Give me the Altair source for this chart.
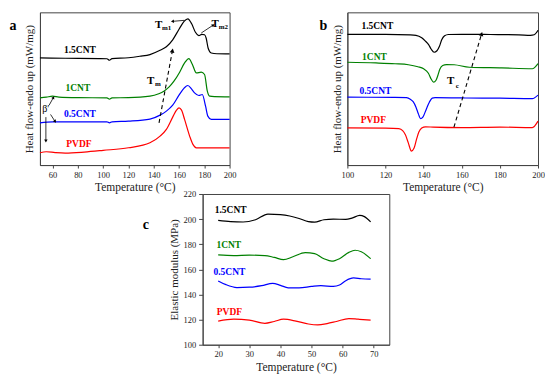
import math
import altair as alt
import pandas as pd

FONT = "Liberation Serif"
SERIES = ["1.5CNT", "1CNT", "0.5CNT", "PVDF"]
COLORS = ["#000000", "#008000", "#0000ff", "#ff0000"]

# ---------------- panel a : DSC heating (arbitrary heat-flow units) ----------------
a_T_15 = [50, 70, 97, 103, 105, 107, 120, 129, 137, 145, 150, 155, 160, 164, 167, 170, 173, 175.7, 178, 180.2, 181.5, 183, 185.5, 190, 200]
a_V_15 = [107.3, 107, 106.7, 106.5, 105, 106.7, 107.5, 109, 110.7, 115, 118.5, 125.5, 136, 144, 146.5, 141.5, 133, 129.7, 131, 130.5, 127, 117.3, 112.3, 111.5, 111.3]
a_T_1 = [50, 55, 60, 65, 80, 103, 105, 107, 120, 137, 144, 148, 152, 156, 160.5, 164.4, 167.8, 170.5, 173.7, 177.6, 180.2, 182.4, 184.2, 188, 200]
a_V_1 = [67.3, 68, 69, 68, 67.5, 67.3, 66, 67.3, 67.5, 69, 71.5, 74, 78, 84, 93, 102.3, 106.7, 101, 92.3, 93, 90.7, 74, 69, 68.5, 68.3]
a_T_05 = [50, 60, 80, 103, 105, 107, 120, 137, 145, 150, 155, 160, 164, 167, 170, 172.3, 175.7, 178.4, 181, 182.8, 185.5, 190, 200]
a_V_05 = [42.3, 43.3, 43.3, 43.3, 42.3, 43.3, 44, 46, 50, 54, 60, 70, 77, 79.7, 76, 72.3, 69.7, 70.7, 59, 49, 45.7, 45.7, 45.7]
a_T_p = [50, 55, 62, 70, 85, 100, 120, 137, 145, 150, 155, 158, 160, 162, 164.4, 168.4, 171, 173.7, 177, 200]
a_V_p = [12.3, 13.3, 12.5, 12, 13, 14.7, 17.3, 22.3, 29, 35.7, 48, 55, 57.3, 55, 45.7, 29, 20.7, 17.3, 17.3, 17.3]
a_lab_x = [81.6, 80, 81.6, 80.8]
a_lab_y = [115, 77, 51, 21]

# ---------------- panel b : DSC cooling ----------------
b_T_15 = [100, 120, 133, 136, 139, 141, 142.6, 144, 145.5, 147, 148.3, 149.5, 151, 153, 160, 175, 190, 196, 198, 200]
b_V_15 = [131, 131, 130.5, 130, 127.5, 124, 120.7, 116, 113, 114.5, 119, 125.5, 129.5, 130.8, 131, 130.8, 130.5, 130, 130.5, 135]
b_T_1 = [100, 115, 125, 132, 137, 140, 142.5, 144, 145.2, 146.5, 147.5, 148.5, 150, 152, 156, 164, 181, 197, 200]
b_V_1 = [103, 102.3, 101.5, 100.5, 98.5, 96.5, 92, 86, 83, 85, 90, 96, 99.7, 100.7, 100.5, 98, 97.3, 96.5, 101.7]
b_T_05 = [100, 125, 131, 133, 134.5, 136, 137.3, 138.4, 139.6, 141.4, 143, 144.5, 146, 160, 180, 197, 200]
b_V_05 = [68, 67.8, 67.5, 66, 63.5, 58, 51, 46.5, 48, 56, 63, 67, 67.5, 67.2, 67, 66.5, 70]
b_T_p = [100, 120, 127, 129, 130.5, 132, 133.6, 135, 136.3, 137.5, 139, 141, 145, 160, 180, 197, 200]
b_V_p = [37.3, 37, 36.5, 34.5, 30, 22, 14, 17, 26, 33, 37, 38.3, 38, 37.5, 38, 37.5, 44]
b_lab_x = [115.7, 114.2, 114.7, 113.6]
b_lab_y = [139, 108, 74, 45]

# ---------------- panel c : elastic modulus ----------------
c_T_15 = [20, 24, 28, 32, 36, 40, 43, 46, 49, 51, 54, 57, 61, 63, 65.5, 67, 69]
c_V_15 = [199, 198, 197.7, 199.5, 204, 203.6, 202.5, 200.5, 198, 197.6, 199.5, 200, 199.8, 200.8, 203, 202, 197.8]
c_T_1 = [20, 25, 30, 35, 38, 41, 44, 48, 51, 54, 56.5, 59, 62, 64, 66, 69]
c_V_1 = [171.5, 171, 171.3, 171, 169.5, 167.7, 170, 173.3, 172.5, 168.5, 166.5, 168.5, 173.5, 175.2, 174, 168.5]
c_T_05 = [20, 22.5, 26, 30, 34, 37.5, 40, 42.5, 46, 50, 53, 57, 59, 61, 63.5, 66, 69]
c_V_05 = [150.8, 147.8, 145.5, 145.8, 147, 148.8, 147.3, 145.3, 145.3, 146.4, 147, 146.4, 147.5, 151, 153.2, 152.5, 152.2]
c_T_p = [20, 25, 30, 35, 38, 41, 45, 49, 52, 55, 58, 62, 65, 69]
c_V_p = [118.8, 120.3, 119.6, 117, 118.5, 120.3, 118.8, 116.5, 115.8, 116.8, 118.5, 120.8, 120.3, 119.6]
c_lab_x = [24, 23.4, 23.6, 23.6]
c_lab_y = [207.4, 179.2, 158, 125.7]

# ---------------- annotations ----------------
a_T_x = [143.8, 188.5, 137.5]
a_T_y = [140.7, 141.3, 84.7]
a_sub_txt = ["m1", "m2", "m"]
a_sub_x = [150.2, 195.0, 143.4]
a_sub_y = [137.3, 138.3, 80.7]
a_arr_x1 = [164.4, 177.6, 57.3, 58.4, 54.7]
a_arr_y1 = [145, 132.3, 60, 50.7, 48]
a_arr_x2 = [155.2, 186.8, 60.5, 61.8, 54.7]
a_arr_y2 = [144, 140, 67.3, 44, 24.7]
a_dash = [144.2, 42.3, 154.7, 114]
a_beta = [54.7, 56]

b_T_x = [154.2]
b_T_y = [84]
b_sub_x = [157.6]
b_sub_y = [79.5]
b_dash = [155.9, 38, 170.3, 130.7]

A_DOM = [50, 200]
B_DOM = [100, 200]
C_DOM = [15, 75]
A_YDOM = [0, 153]
B_YDOM = [0, 153]
C_YDOM = [100, 220]
AW, AH = 190, 153
BW, BH = 191, 153
CW, CH = 187, 151


def series_df(Ts, Vs):
    rows = []
    for name, t, v in zip(SERIES, Ts, Vs):
        for i, (x, y) in enumerate(zip(t, v)):
            rows.append({"T": x, "v": y, "s": name, "o": i})
    return pd.DataFrame(rows)


def head_angle(x1, y1, x2, y2, sx, sy):
    dx = (x2 - x1) * sx
    dy = (y2 - y1) * sy
    return math.degrees(math.atan2(dx, dy)) % 360


color_scale = alt.Scale(domain=SERIES, range=COLORS)


class P:
    pass


def panel(Ts, Vs, labx, laby, xdom, ydom, xvals, xtitle, ytitle, yaxis_labels, yvals, letter, letter_dx, letter_y):
    p = P()
    p.xs = alt.Scale(domain=xdom, nice=False, zero=False)
    p.ys = alt.Scale(domain=ydom, nice=False, zero=False)
    p.xax = alt.Axis(values=xvals, title=xtitle, grid=False, tickSize=3, labelPadding=2,
                     titlePadding=3, labelFontSize=8.5, titleFontSize=11.5, labelOverlap=False,
                     titleFontWeight="normal", domainColor="#444", tickColor="#444",
                     labelColor="#222", titleColor="#222", labelFont=FONT, titleFont=FONT)
    if yaxis_labels:
        p.yax = alt.Axis(values=yvals, title=ytitle, grid=False, tickSize=4, labelPadding=3,
                         titlePadding=3, labelFontSize=8.5, titleFontSize=11, labelOverlap=False,
                         titleFontWeight="normal", domainColor="#444", tickColor="#444",
                         labelColor="#222", titleColor="#222", labelFont=FONT, titleFont=FONT)
    else:
        p.yax = alt.Axis(title=ytitle, grid=False, labels=False, ticks=False, titlePadding=5,
                         titleFontSize=11, titleFontWeight="normal", domainColor="#444",
                         titleColor="#222", titleFont=FONT)
    df = series_df(Ts, Vs)
    lines = alt.Chart(df).mark_line(strokeWidth=1.2, interpolate="monotone").encode(
        x=alt.X("T:Q", scale=p.xs, axis=p.xax),
        y=alt.Y("v:Q", scale=p.ys, axis=p.yax),
        color=alt.Color("s:N", scale=color_scale, legend=None),
        order="o:Q",
    )
    lab = pd.DataFrame({"T": labx, "v": laby, "s": SERIES})
    labels = alt.Chart(lab).mark_text(font=FONT, fontWeight="bold", fontSize=9.5).encode(
        x=alt.X("T:Q", scale=p.xs, axis=p.xax), y=alt.Y("v:Q", scale=p.ys, axis=p.yax),
        text="s:N", color=alt.Color("s:N", scale=color_scale, legend=None),
    )
    let = alt.Chart(pd.DataFrame({"T": [xdom[0]], "v": [letter_y], "t": [letter]})).mark_text(
        font=FONT, fontWeight="bold", fontSize=14, dx=letter_dx, color="#000").encode(
        x=alt.X("T:Q", scale=p.xs, axis=p.xax), y=alt.Y("v:Q", scale=p.ys, axis=p.yax), text="t:N")
    p.layers = [lines, labels, let]
    return p


def t_marks(p, tx, ty, sx, sy, subs):
    big = alt.Chart(pd.DataFrame({"T": tx, "v": ty, "t": ["T"] * len(tx)})).mark_text(
        font=FONT, fontWeight="bold", fontSize=11, color="#000").encode(
        x=alt.X("T:Q", scale=p.xs, axis=p.xax), y=alt.Y("v:Q", scale=p.ys, axis=p.yax), text="t:N")
    small = alt.Chart(pd.DataFrame({"T": sx, "v": sy, "t": subs})).mark_text(
        font=FONT, fontWeight="bold", fontSize=7, color="#000").encode(
        x=alt.X("T:Q", scale=p.xs, axis=p.xax), y=alt.Y("v:Q", scale=p.ys, axis=p.yax), text="t:N")
    p.layers += [big, small]


def arrows(p, x1, y1, x2, y2, pxx, pxy, dash, size):
    ang = [head_angle(a, b, c, d, pxx, pxy) for a, b, c, d in zip(x1, y1, x2, y2)]
    df = pd.DataFrame({"T": x1, "v": y1, "T2": x2, "v2": y2, "ang": ang})
    kw = {"strokeDash": [4, 3]} if dash else {}
    rule = alt.Chart(df).mark_rule(color="#000", strokeWidth=1.1 if dash else 0.8, **kw).encode(
        x=alt.X("T:Q", scale=p.xs, axis=p.xax), y=alt.Y("v:Q", scale=p.ys, axis=p.yax),
        x2="T2:Q", y2="v2:Q")
    df2 = pd.DataFrame({"T": x2, "v": y2, "ang": ang})
    head = alt.Chart(df2).mark_point(shape="triangle", filled=True, color="#000", size=size, opacity=1).encode(
        x=alt.X("T:Q", scale=p.xs, axis=p.xax), y=alt.Y("v:Q", scale=p.ys, axis=p.yax),
        angle=alt.Angle("ang:Q", scale=None))
    p.layers += [rule, head]


# ----- panel a
pa = panel([a_T_15, a_T_1, a_T_05, a_T_p], [a_V_15, a_V_1, a_V_05, a_V_p], a_lab_x, a_lab_y,
           A_DOM, A_YDOM, list(range(60, 201, 20)), "Temperature (°C)",
           "Heat flow-endo up (mW/mg)", False, None, "a", -27, 139)
pa_x = AW / (A_DOM[1] - A_DOM[0])
pa_y = AH / (A_YDOM[1] - A_YDOM[0])
t_marks(pa, a_T_x, a_T_y, a_sub_x, a_sub_y, a_sub_txt)
arrows(pa, a_arr_x1, a_arr_y1, a_arr_x2, a_arr_y2, pa_x, pa_y, False, 12)
arrows(pa, [a_dash[0]], [a_dash[1]], [a_dash[2]], [a_dash[3]], pa_x, pa_y, True, 22)
pa.layers.append(alt.Chart(pd.DataFrame({"T": [a_beta[0]], "v": [a_beta[1]], "t": ["β′"]})).mark_text(
    font=FONT, fontSize=10, color="#000").encode(
    x=alt.X("T:Q", scale=pa.xs, axis=pa.xax), y=alt.Y("v:Q", scale=pa.ys, axis=pa.yax), text="t:N"))
chart_a = alt.layer(*pa.layers).properties(width=AW, height=AH)

# ----- panel b
pb = panel([b_T_15, b_T_1, b_T_05, b_T_p], [b_V_15, b_V_1, b_V_05, b_V_p], b_lab_x, b_lab_y,
           B_DOM, B_YDOM, list(range(100, 201, 20)), "Temperature (°C)",
           "Heat flow-endo up (mW/mg)", False, None, "b", -24, 139)
pb_x = BW / (B_DOM[1] - B_DOM[0])
pb_y = BH / (B_YDOM[1] - B_YDOM[0])
t_marks(pb, b_T_x, b_T_y, b_sub_x, b_sub_y, ["c"])
arrows(pb, [b_dash[0]], [b_dash[1]], [b_dash[2]], [b_dash[3]], pb_x, pb_y, True, 22)
chart_b = alt.layer(*pb.layers).properties(width=BW, height=BH)

# ----- panel c
pc = panel([c_T_15, c_T_1, c_T_05, c_T_p], [c_V_15, c_V_1, c_V_05, c_V_p], c_lab_x, c_lab_y,
           C_DOM, C_YDOM, list(range(20, 71, 10)), "Temperature (°C)",
           "Elastic modulus (MPa)", True, list(range(100, 221, 20)), "c", -57, 195)
chart_c = alt.layer(*pc.layers).properties(width=CW, height=CH)

spacer = alt.Chart(pd.DataFrame({"x": [0.5]})).mark_point(opacity=0).encode(
    x=alt.X("x:Q", axis=None, scale=alt.Scale(domain=[0, 1])),
    y=alt.Y("x:Q", axis=None, scale=alt.Scale(domain=[0, 1])),
).properties(width=101, height=10, view=alt.ViewBackground(stroke="transparent"))

top = alt.hconcat(chart_a, chart_b, spacing=82)
bottom = alt.hconcat(spacer, chart_c, spacing=0)
chart = alt.vconcat(top, bottom, spacing=-8).properties(
    padding={"left": 1, "top": 3, "right": 0, "bottom": 0},
    background="white",
).configure_view(stroke="#444", strokeWidth=1).configure_text(font=FONT).configure_axis(
    labelOverlap=False, labelFlush=False)

chart.save("out.html", embed_options={"renderer": "svg", "actions": False})
